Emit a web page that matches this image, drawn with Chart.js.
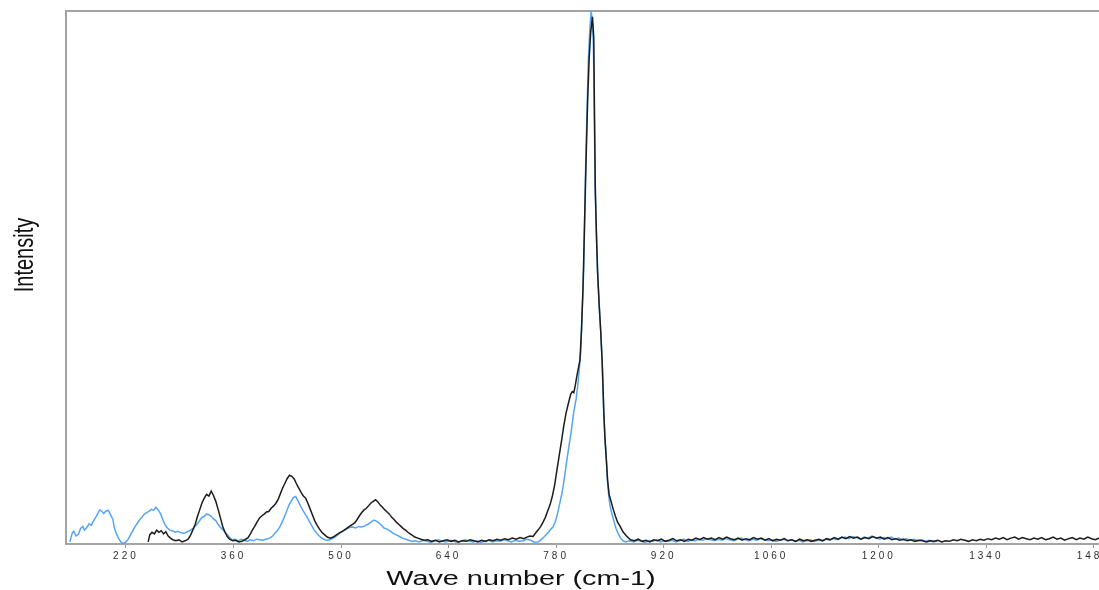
<!DOCTYPE html>
<html>
<head>
<meta charset="utf-8">
<title>Raman spectra</title>
<script src="https://cdn.jsdelivr.net/npm/chart.js@4.4.1/dist/chart.umd.min.js"></script>
<style>
  html, body { margin: 0; padding: 0; background: #ffffff; overflow: hidden; }
  #wrap { position: relative; width: 1110px; height: 590px; }
</style>
</head>
<body>
<div id="wrap"><canvas id="chart" width="1110" height="590"></canvas></div>
<script>
// Tick positions along the wave-number axis
const xTicks = [220, 360, 500, 640, 780, 920, 1060, 1200, 1340, 1480];

// Blue spectrum: wave number (cm-1) and relative intensity
const blueWave = [
  147,150,152,155,158,161,164,166,169,172,
  175,178,181,184,186,189,191,194,197,200,
  203,205,208,211,214,217,220,223,226,229,
  232,235,238,241,244,247,250,253,256,259,
  262,265,268,271,274,277,280,284,288,292,
  296,300,304,308,312,316,319,322,325,328,
  331,334,337,340,343,346,349,352,355,358,
  362,366,370,374,378,382,386,390,394,398,
  402,405,408,411,414,417,420,423,426,429,
  432,435,438,441,444,447,450,453,456,459,
  462,465,468,471,475,479,483,487,491,495,
  499,503,507,511,515,519,523,527,531,535,
  539,543,546,549,552,556,560,564,568,572,
  576,580,584,588,592,597,602,607,612,617,
  622,627,632,637,642,647,652,657,662,667,
  672,677,682,687,692,697,702,707,712,717,
  722,727,732,737,742,747,752,757,762,766,
  770,773,776,779,782,785,788,791,794,797,
  800,803,806,808,810,812,814,816,818,820,
  822,824,825.6,827,828.5,829.8,830.8,832.5,834,836,
  838,840,842,843.5,845.4,847,848.5,850,852,855,
  858,861,864,867,871,876,881,886,891,896,
  901,906,911,916,921,926,931,936,941,946,
  951,956,961,966,971,976,981,986,991,996,
  1001,1006,1011,1016,1021,1026,1031,1036,1041,1046,
  1051,1056,1061,1066,1071,1076,1081,1086,1091,1096,
  1101,1106,1111,1116,1121,1126,1131,1136,1141,1146,
  1151,1156,1161,1166,1171,1176,1181,1186,1191,1196,
  1201,1206,1211,1216,1221,1226,1231,1236,1241,1246,
  1251,1256,1261,1266,1271,1276
];
const blueIntensity = [
  0.4,2.0,2.4,1.5,1.8,2.9,3.3,2.6,3.1,3.8,
  3.5,4.4,5.1,5.9,6.4,6.1,5.7,6.2,6.3,5.5,
  4.6,3.0,1.8,0.9,0.3,0.1,0.4,0.9,1.7,2.5,
  3.3,3.9,4.6,5.0,5.6,5.9,6.1,6.5,6.3,6.9,
  6.4,5.7,4.6,3.6,3.0,2.6,2.5,2.2,2.4,2.1,
  2.0,2.3,2.6,3.0,3.6,4.4,5.0,5.2,5.6,5.5,
  5.2,4.7,4.4,3.7,3.1,2.7,2.2,1.8,1.2,0.8,
  0.9,0.6,0.9,0.7,0.5,0.8,0.6,0.9,0.8,0.7,
  0.9,1.0,1.2,1.5,2.0,2.5,3.1,4.0,5.0,6.1,
  7.2,8.0,8.7,8.9,8.1,7.2,6.4,5.7,5.0,4.2,
  3.4,2.6,2.1,1.6,1.1,0.8,0.7,0.9,1.2,1.6,
  2.1,2.4,2.8,3.1,3.2,3.0,3.3,3.2,3.4,3.7,
  4.1,4.5,4.3,4.0,3.6,3.0,2.8,2.4,2.0,1.7,
  1.4,1.1,0.9,0.7,0.5,0.6,0.4,0.7,0.5,0.3,
  0.6,0.8,0.5,0.4,0.7,0.5,0.3,0.6,0.8,0.5,
  0.4,0.6,0.3,0.5,0.7,0.4,0.6,0.5,0.8,0.6,
  0.4,0.7,0.5,0.6,0.9,0.7,0.3,0.4,1.0,1.6,
  2.2,2.8,3.2,4.2,5.8,7.8,9.8,12.6,15.8,18.6,
  21.5,24.8,27.2,29.5,32.5,36,44,52,68,80,
  91,97,99.9,98.5,94,80,66,58,51,45,
  40,34,25,20,15.8,11.5,9.0,7.4,6.0,4.4,
  2.9,1.9,1.1,0.6,0.4,0.6,0.4,0.7,0.5,0.3,
  0.6,0.5,0.8,0.4,0.6,0.5,0.7,0.4,0.6,0.9,
  0.5,0.7,0.6,0.9,0.7,1.0,0.8,0.6,0.9,0.7,
  1.0,0.8,0.6,0.9,1.1,0.8,0.6,0.9,0.7,1.0,
  0.8,0.6,0.8,0.5,0.7,0.9,0.6,0.8,0.5,0.7,
  0.4,0.6,0.8,0.5,0.7,0.6,0.9,0.7,1.0,0.8,
  1.1,1.3,1.0,1.4,1.2,0.9,1.3,1.1,1.5,1.2,
  0.9,1.2,1.0,1.3,0.9,1.1,0.8,1.0,0.7,0.9,
  0.6,0.8,0.5,0.7,0.4,0.5
];

// Black spectrum: wave number (cm-1) and relative intensity
const blackWave = [
  249,251,254,257,260,263,266,269,272,275,
  278,281,285,289,293,297,301,304,307,310,
  313,316,319,322,325,328,331,334,337,340,
  343,346,349,352,355,359,363,367,371,375,
  379,382,385,388,391,394,397,400,403,406,
  409,412,415,418,421,424,427,430,433,436,
  439,442,445,448,451,454,457,460,463,466,
  469,472,475,478,482,486,490,494,498,502,
  506,510,514,518,521,524,527,530,533,536,
  539,542,545,548,551,554,557,560,563,566,
  569,572,575,578,581,584,587,590,593,596,
  600,604,608,613,618,623,628,633,638,643,
  648,653,658,663,668,673,678,683,688,693,
  698,703,708,713,718,723,728,733,738,742,
  746,750,754,757,760,763,766,769,772,775,
  778,781,784,787,790,793,796,799,801,803,
  805,807,809,811,813,815,817,819,821,823,
  825,827.3,829,830,831,832.5,834,836,838,840,
  842,843.5,845.4,847,849,851.5,854.6,857,860,863.7,
  867,871,876.7,882,887,892,897,902,907,912,
  917,922,927,932,937,942,947,952,957,962,
  967,972,977,982,987,992,997,1002,1007,1012,
  1017,1022,1027,1032,1037,1042,1047,1052,1057,1062,
  1067,1072,1077,1082,1087,1092,1097,1102,1107,1112,
  1117,1122,1127,1132,1137,1142,1147,1152,1157,1162,
  1167,1172,1177,1182,1187,1192,1197,1202,1207,1212,
  1217,1222,1227,1232,1237,1242,1247,1252,1257,1262,
  1267,1272,1277,1282,1287,1292,1297,1302,1307,1312,
  1317,1322,1327,1332,1337,1342,1347,1352,1357,1362,
  1367,1372,1377,1382,1387,1392,1397,1402,1407,1412,
  1417,1422,1427,1432,1437,1442,1447,1452,1457,1462,
  1467,1472,1477,1482,1487,1492,1497,1502
];
const blackIntensity = [
  0.4,1.7,2.2,1.9,2.6,2.2,2.5,1.9,2.3,1.5,
  1.1,0.8,0.6,0.8,0.4,0.6,0.9,1.6,2.6,3.6,
  5.1,6.4,7.7,8.6,9.3,9.0,9.9,9.1,8.0,6.5,
  4.9,3.3,2.2,1.4,0.9,0.6,0.7,0.4,0.5,0.8,
  1.2,1.9,2.7,3.4,4.2,4.9,5.3,5.6,6.0,6.1,
  6.7,7.1,7.6,8.3,9.4,10.5,11.4,12.3,12.9,12.7,
  12.2,11.3,10.5,9.7,9.0,8.6,7.6,6.5,5.4,4.3,
  3.5,2.8,2.2,1.8,1.3,1.1,1.3,1.7,2.1,2.4,
  2.8,3.2,3.6,4.0,4.6,5.3,5.9,6.4,6.7,7.2,
  7.7,8.0,8.3,7.9,7.3,6.9,6.4,6.0,5.6,5.0,
  4.6,4.1,3.7,3.3,2.9,2.6,2.2,1.9,1.6,1.3,
  1.1,0.9,0.7,0.8,0.5,0.7,0.4,0.6,0.8,0.5,
  0.7,0.4,0.6,0.5,0.8,0.6,0.4,0.7,0.5,0.8,
  0.6,0.9,0.7,1.0,0.8,1.1,0.9,1.2,1.0,1.3,
  1.5,1.4,2.2,2.7,3.3,4.1,5.0,6.2,7.3,8.9,
  11.0,13.8,16.6,19.3,22.2,24.6,26.4,28.1,28.6,28.4,
  29.8,31.5,33.0,34.5,40,48,60,72,83,91,
  96,98.9,95,80,67,58,51,45,40,34,
  25,20,15.8,12,9.3,8.0,6.4,5.3,4.1,3.2,
  2.3,1.6,0.8,0.6,0.9,0.5,0.7,0.4,0.8,0.6,
  0.9,0.5,0.7,1.0,0.6,0.8,0.5,0.9,0.7,1.1,
  0.8,1.2,0.9,1.1,0.8,1.2,0.9,1.3,1.0,0.8,
  1.1,0.7,1.0,0.8,1.2,0.9,1.1,0.7,1.0,0.6,
  0.9,0.7,1.0,0.6,0.8,0.5,0.9,0.6,0.8,0.5,
  0.7,0.9,0.6,1.0,0.8,1.2,0.9,1.3,1.0,1.4,
  1.1,1.3,0.9,1.2,1.0,1.4,1.1,1.3,0.9,1.2,
  0.8,1.0,0.7,0.9,0.6,0.8,0.5,0.7,0.6,0.4,
  0.6,0.5,0.7,0.4,0.6,0.5,0.8,0.6,0.9,0.7,
  0.5,0.8,0.6,0.9,0.7,1.0,0.8,1.1,0.9,1.2,
  0.8,1.1,1.3,0.9,1.2,1.0,0.8,1.1,0.9,1.2,
  0.8,1.0,1.3,0.9,1.1,0.7,1.0,1.2,0.8,1.1,
  0.9,1.3,1.0,0.8,1.1,0.9,1.2,1.0
];

const xTitle = 'Wave number (cm-1)';
const yTitle = 'Intensity';

const toPoints = (wave, values) => wave.map((w, i) => ({ x: w, y: values[i] }));

const AXIS_GREY = '#a3a3a3';

// Axis titles, drawn slightly widened like the rest of the figure text
const axisTitles = {
  id: 'axisTitles',
  afterDraw(chart) {
    const ctx = chart.ctx;
    ctx.save();
    ctx.letterSpacing = '0px';
    ctx.fillStyle = '#111111';
    ctx.font = '20px "Liberation Sans", Arial, sans-serif';
    ctx.textAlign = 'center';
    ctx.textBaseline = 'alphabetic';
    ctx.save();
    ctx.translate(521, 585);
    ctx.scale(1.44, 1);
    ctx.fillText(xTitle, 0, 0);
    ctx.restore();
    ctx.save();
    ctx.translate(33, 255);
    ctx.rotate(-Math.PI / 2);
    ctx.scale(1, 1.4);
    ctx.fillText(yTitle, 0, 0);
    ctx.restore();
    ctx.restore();
  }
};

// Wider spacing for the small tick numerals
const tickSpacing = {
  id: 'tickSpacing',
  beforeDraw(chart) { chart.ctx.letterSpacing = '3px'; },
  afterDraw(chart) { chart.ctx.letterSpacing = '0px'; }
};

new Chart(document.getElementById('chart'), {
  type: 'line',
  data: {
    datasets: [
      {
        label: 'black',
        data: toPoints(blackWave, blackIntensity),
        borderColor: '#1c1c1c',
        borderWidth: 1.5,
        pointRadius: 0,
        tension: 0,
        fill: false
      },
      {
        label: 'blue',
        data: toPoints(blueWave, blueIntensity),
        borderColor: '#55a5f2',
        borderWidth: 1.5,
        pointRadius: 0,
        tension: 0,
        fill: false
      }
    ]
  },
  options: {
    responsive: false,
    animation: false,
    events: [],
    layout: { padding: { top: 11, left: 0, right: 0, bottom: 0 } },
    plugins: {
      legend: { display: false },
      tooltip: { enabled: false },
      title: { display: false }
    },
    scales: {
      x: {
        type: 'linear',
        position: 'bottom',
        min: 142,
        max: 1501,
        afterBuildTicks(scale) { scale.ticks = xTicks.map(v => ({ value: v })); },
        afterFit(scale) { scale.height = 46; },
        ticks: {
          autoSkip: false,
          maxRotation: 0,
          padding: 2,
          color: '#2e2e2e',
          font: { family: '"Liberation Sans", Arial, sans-serif', size: 10 },
          callback: v => String(v)
        },
        grid: { display: true, drawOnChartArea: false, drawTicks: true, tickLength: 4, color: '#999999', lineWidth: 1 },
        border: { display: true, color: AXIS_GREY, width: 2 }
      },
      xTop: {
        type: 'linear',
        axis: 'x',
        position: 'top',
        min: 142,
        max: 1501,
        afterFit(scale) { scale.height = 0; },
        ticks: { display: false },
        grid: { display: false, drawTicks: false },
        border: { display: true, color: AXIS_GREY, width: 2 }
      },
      y: {
        type: 'linear',
        min: 0,
        max: 100,
        afterFit(scale) { scale.width = 66; },
        ticks: { display: false },
        grid: { display: false, drawTicks: false },
        border: { display: true, color: AXIS_GREY, width: 2 }
      }
    }
  },
  plugins: [tickSpacing, axisTitles]
});
</script>
</body>
</html>
